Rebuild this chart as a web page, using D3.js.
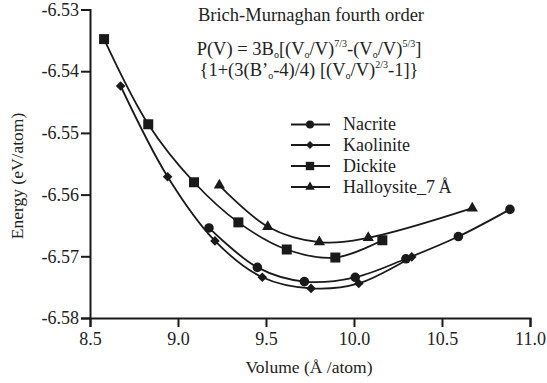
<!DOCTYPE html>
<html>
<head>
<meta charset="utf-8">
<script src="https://cdn.jsdelivr.net/npm/d3@7"></script>
<style>
  html, body { margin: 0; padding: 0; background: #fff; }
  svg { display: block; }
  svg text { font-family: "Liberation Serif", "Times New Roman", serif !important; fill: #222; }
</style>
</head>
<body>
<svg id="chart" width="547" height="383"></svg>
<script>
// ---- data ----
const nacriteV   = [9.176, 9.451, 9.718, 10.007, 10.295, 10.593, 10.886];
const nacriteE   = [-6.5654, -6.5718, -6.5741, -6.5734, -6.5704, -6.5668, -6.5624];
const kaoliniteV = [8.674, 8.941, 9.210, 9.479, 9.756, 10.027, 10.328];
const kaoliniteE = [-6.5424, -6.5571, -6.5675, -6.5734, -6.5752, -6.5744, -6.5701];
const dickiteV   = [8.580, 8.831, 9.091, 9.343, 9.618, 9.894, 10.161];
const dickiteE   = [-6.5348, -6.5486, -6.5580, -6.5645, -6.5689, -6.5702, -6.5674];
const halloyV    = [9.235, 9.510, 9.803, 10.081, 10.672];
const halloyE    = [-6.5585, -6.5652, -6.5677, -6.5670, -6.5622];
const seriesNames = ["Nacrite", "Kaolinite", "Dickite", "Halloysite_7\u2009Å"];
const xTicks = [8.5, 9.0, 9.5, 10.0, 10.5, 11.0];
const yTicks = [-6.53, -6.54, -6.55, -6.56, -6.57, -6.58];

const series = [
  { name: seriesNames[0], v: nacriteV, e: nacriteE, sym: "circle" },
  { name: seriesNames[1], v: kaoliniteV, e: kaoliniteE, sym: "diamond" },
  { name: seriesNames[2], v: dickiteV, e: dickiteE, sym: "square" },
  { name: seriesNames[3], v: halloyV, e: halloyE, sym: "triangle" }
];

const FONT = '"Liberation Serif", "Times New Roman", serif';
const svg = d3.select("#chart").attr("font-family", FONT);
const x = d3.scaleLinear().domain([8.5, 11.0]).range([90, 530]);
const y = d3.scaleLinear().domain([-6.58, -6.53]).range([318, 9.5]);
const ink = "#1a1a1a";

// axes
const gx = svg.append("g").attr("transform", `translate(0,${y(-6.58)})`)
  .call(d3.axisBottom(x).tickValues(xTicks).tickFormat(d3.format(".1f")).tickSizeInner(9).tickSizeOuter(9).tickPadding(4));
const gy = svg.append("g").attr("transform", `translate(${x(8.5)},0)`)
  .call(d3.axisLeft(y).tickValues(yTicks).tickFormat(d => d3.format(".2f")(d).replace("−", "-")).tickSizeInner(9).tickSizeOuter(9).tickPadding(2));
[gx, gy].forEach(g => {
  g.attr("font-family", FONT).attr("font-size", 18);
  g.select(".domain").attr("stroke", ink).attr("stroke-width", 2);
  g.selectAll(".tick line").attr("stroke", ink).attr("stroke-width", 2);
  g.selectAll(".tick text").attr("font-size", 18).attr("fill", "#222").style("font-family", FONT);
});
gx.selectAll(".tick text").attr("dy", "0.75em");

// axis titles
svg.append("text").attr("x", 309).attr("y", 373).attr("text-anchor", "middle")
  .attr("font-size", 17.5).text("Volume (Å /atom)");
svg.append("text").attr("transform", "translate(23,176) rotate(-90)").attr("text-anchor", "middle")
  .attr("font-size", 17.5).text("Energy (eV/atom)");

// symbols
function symbolPath(kind, scale) {
  const s = scale || 1;
  if (kind === "circle") return d3.symbol(d3.symbolCircle, 72 * s)();
  if (kind === "square") return d3.symbol(d3.symbolSquare, 100 * s)();
  if (kind === "triangle") return d3.symbol(d3.symbolTriangle, 55 * s)();
  return d3.symbol(d3.symbolSquare, 46 * s)();
}
function symbolRot(kind) { return kind === "diamond" ? " rotate(45)" : ""; }

// curves
const line = d3.line().x(d => x(d[0])).y(d => y(d[1])).curve(d3.curveCatmullRom.alpha(0.5));
series.forEach(s => {
  const pts = s.v.map((v, i) => [v, s.e[i]]);
  svg.append("path").datum(pts).attr("d", line)
    .attr("fill", "none").attr("stroke", ink).attr("stroke-width", 1.8);
  svg.selectAll(null).data(pts).enter().append("path")
    .attr("d", symbolPath(s.sym))
    .attr("transform", d => `translate(${x(d[0])},${y(d[1])})` + symbolRot(s.sym))
    .attr("fill", ink);
});

// legend
const legY = [124.5, 145, 166, 187];
series.forEach((s, i) => {
  const g = svg.append("g").attr("transform", `translate(0,${legY[i]})`);
  g.append("line").attr("x1", 291).attr("x2", 330).attr("y1", 0).attr("y2", 0)
    .attr("stroke", ink).attr("stroke-width", 2);
  g.append("path").attr("d", symbolPath(s.sym, 0.7))
    .attr("transform", `translate(310,0)` + symbolRot(s.sym)).attr("fill", ink);
  g.append("text").attr("x", 343).attr("y", 5.5).attr("font-size", 18).text(s.name);
});

// title and formula
svg.append("text").attr("x", 311).attr("y", 21).attr("text-anchor", "middle")
  .attr("font-size", 18.5).text("Brich-Murnaghan fourth order");

function richLine(yPos, parts) {
  const t = svg.append("text").attr("x", 309).attr("y", yPos).attr("text-anchor", "middle").attr("font-size", 18.5);
  parts.forEach(p => {
    const sp = t.append("tspan").text(p.t);
    if (p.sub) sp.attr("font-size", 10).attr("dy", 3);
    else if (p.sup) sp.attr("font-size", 10).attr("dy", -8);
    if (p.back) sp.attr("dy", p.back);
  });
}
richLine(55, [
  { t: "P(V) = 3B" }, { t: "o", sub: true }, { t: "[(V", back: -3 }, { t: "o", sub: true },
  { t: "/V)", back: -3 }, { t: "7/3", sup: true }, { t: "-(V", back: 8 }, { t: "o", sub: true },
  { t: "/V)", back: -3 }, { t: "5/3", sup: true }, { t: "]", back: 8 }
]);
richLine(76, [
  { t: "{1+(3(B’" }, { t: "o", sub: true }, { t: "-4)/4) [(V", back: -3 }, { t: "o", sub: true },
  { t: "/V)", back: -3 }, { t: "2/3", sup: true }, { t: "-1]}", back: 8 }
]);
</script>
</body>
</html>
